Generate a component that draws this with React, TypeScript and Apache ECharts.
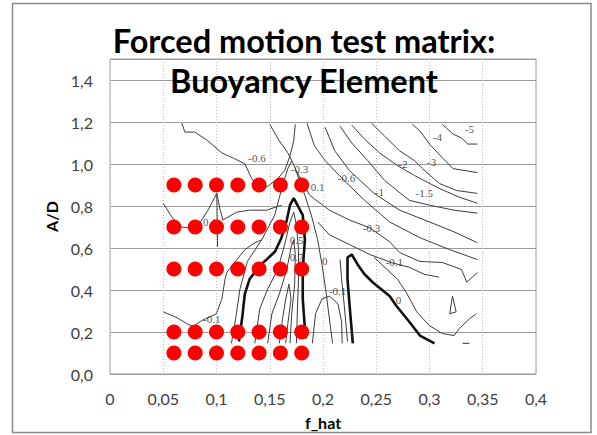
import { useEffect, useRef } from "react";
import * as echarts from "echarts";

// Test points of the forced motion matrix
const fHatValues = [0.06, 0.08, 0.1, 0.12, 0.14, 0.16, 0.18];
const adValues = [0.1, 0.2, 0.5, 0.7, 0.9];

// Axis tick labels (comma decimals)
const xTickLabels = ["0", "0,05", "0,1", "0,15", "0,2", "0,25", "0,3", "0,35", "0,4"];
const yTickLabels = ["0,0", "0,2", "0,4", "0,6", "0,8", "1,0", "1,2", "1,4"];

// Background contour lines of the lift coefficient map, [f_hat, A/D]
const contourM5 = [[0.312, 1.189], [0.322, 1.143], [0.33, 1.124], [0.336, 1.095], [0.345, 1.095]];
const contourM4 = [[0.284, 1.189], [0.291, 1.157], [0.3, 1.095], [0.312, 1.03], [0.322, 0.978], [0.345, 0.959]];
const contourM3 = [[0.2456, 1.194], [0.2578, 1.133], [0.2719, 1.063], [0.2859, 1.016], [0.2934, 0.978], [0.3094, 0.907], [0.3253, 0.874], [0.345, 0.86]];
const contourM2 = [[0.227, 1.185], [0.239, 1.119], [0.253, 1.053], [0.27, 0.992], [0.286, 0.945], [0.309, 0.884], [0.328, 0.842], [0.345, 0.813]];
const contourM15 = [[0.216, 1.18], [0.227, 1.1], [0.242, 1.016], [0.258, 0.921], [0.281, 0.827], [0.3, 0.804], [0.323, 0.78], [0.345, 0.766]];
const contourM1 = [[0.202, 1.175], [0.211, 1.063], [0.225, 0.968], [0.248, 0.86], [0.272, 0.78], [0.3, 0.724], [0.323, 0.677], [0.345, 0.625]];
const contourM06 = [[0.185, 1.194], [0.192, 1.086], [0.202, 1.016], [0.22, 0.921], [0.239, 0.827], [0.2625, 0.724], [0.291, 0.649], [0.319, 0.592], [0.345, 0.545]];
const contourM03 = [[0.175, 0.968], [0.1875, 0.851], [0.206, 0.78], [0.225, 0.733], [0.244, 0.696], [0.2625, 0.63], [0.272, 0.578], [0.291, 0.536], [0.312, 0.531], [0.33, 0.498], [0.335, 0.437], [0.345, 0.484]];
const contourM01 = [[0.195, 0.724], [0.206, 0.663], [0.225, 0.616], [0.244, 0.569], [0.264, 0.531], [0.281, 0.508], [0.295, 0.475], [0.309, 0.461]];
const contourTail = [[0.248, 0.555], [0.27, 0.451], [0.278, 0.39], [0.288, 0.296], [0.3, 0.23], [0.312, 0.193], [0.323, 0.183], [0.328, 0.216], [0.3375, 0.263], [0.344, 0.287]];
const contourIsland = [[0.3216, 0.371], [0.325, 0.296], [0.319, 0.287], [0.3216, 0.371]];
const contourDash = [[0.331, 0.146], [0.3375, 0.146]];
const contourRidgeEdge = [[0.216, 0.545], [0.2175, 0.451], [0.22, 0.324], [0.223, 0.155]];
const contourDome = [[0.19, 0.146], [0.193, 0.287], [0.199, 0.357], [0.206, 0.371], [0.214, 0.334], [0.2175, 0.249], [0.218, 0.146]];
const contourSpikeOuter = [[0.114, 0.146], [0.118, 0.263], [0.122, 0.404], [0.129, 0.536], [0.1425, 0.639], [0.1547, 0.757], [0.162, 0.898], [0.167, 0.978], [0.1706, 1.016], [0.174, 0.978], [0.178, 0.921], [0.183, 0.851], [0.189, 0.757], [0.195, 0.639], [0.199, 0.522], [0.2025, 0.404], [0.206, 0.263], [0.209, 0.146]];
const contourSpike1 = [[0.136, 0.146], [0.1406, 0.31], [0.148, 0.404], [0.1575, 0.498], [0.164, 0.616], [0.169, 0.724], [0.1725, 0.771], [0.175, 0.71], [0.177, 0.592], [0.177, 0.451], [0.176, 0.31], [0.175, 0.146]];
const contourSpike2 = [[0.148, 0.146], [0.152, 0.287], [0.159, 0.381], [0.166, 0.498], [0.17, 0.602], [0.1725, 0.639], [0.174, 0.569], [0.1734, 0.428], [0.1706, 0.287], [0.169, 0.146]];
const contourSpike3 = [[0.159, 0.146], [0.162, 0.263], [0.165, 0.357], [0.168, 0.428], [0.17, 0.357], [0.167, 0.24], [0.165, 0.146]];
const contourUpperLeft = [[0.0675, 1.194], [0.0703, 1.152], [0.0797, 1.152], [0.0919, 1.11], [0.105, 1.053], [0.117, 1.025], [0.1266, 1.001], [0.133, 0.931], [0.1387, 0.893], [0.148, 0.893], [0.1575, 0.931], [0.164, 0.968], [0.169, 1.039], [0.1725, 1.11], [0.174, 1.189]];
const contourUpperMid = [[0.15, 1.189], [0.159, 1.11], [0.167, 1.053], [0.1706, 1.016]];
const contourLeft01 = [[0.05, 0.813], [0.058, 0.748], [0.0656, 0.701], [0.073, 0.696], [0.0844, 0.719], [0.092, 0.78], [0.1003, 0.86], [0.103, 0.79], [0.106, 0.733], [0.119, 0.771], [0.131, 0.78], [0.147, 0.78], [0.161, 0.804]];
const contourLeftSpike = [[0.1003, 0.86], [0.101, 0.606]];
const contourLowerLeft = [[0.05, 0.296], [0.063, 0.268], [0.072, 0.24], [0.078, 0.226], [0.086, 0.254], [0.1, 0.287], [0.105, 0.357], [0.108, 0.451], [0.1097, 0.484], [0.114, 0.512], [0.119, 0.545], [0.1266, 0.592], [0.136, 0.625], [0.1425, 0.639]];

// Zero-level contours, drawn heavier
const contourZeroSpike = [[0.121, 0.155], [0.124, 0.263], [0.1266, 0.381], [0.131, 0.451], [0.138, 0.498], [0.145, 0.536], [0.155, 0.583], [0.161, 0.649], [0.166, 0.733], [0.169, 0.804], [0.1725, 0.837], [0.176, 0.804], [0.181, 0.757], [0.183, 0.639], [0.181, 0.498], [0.181, 0.357], [0.183, 0.216], [0.184, 0.169]];
const contourZeroRidge = [[0.228, 0.146], [0.225, 0.324], [0.223, 0.451], [0.223, 0.555], [0.227, 0.569], [0.2325, 0.522], [0.239, 0.475], [0.2466, 0.437], [0.2625, 0.371], [0.269, 0.324], [0.281, 0.249], [0.291, 0.183], [0.3047, 0.146]];

const thinContours = [
  contourM5, contourM4, contourM3, contourM2, contourM15, contourM1, contourM06, contourM03, contourM01,
  contourTail, contourIsland, contourDash, contourRidgeEdge, contourDome, contourSpikeOuter,
  contourSpike1, contourSpike2, contourSpike3, contourUpperLeft, contourUpperMid, contourLeft01,
  contourLeftSpike, contourLowerLeft,
];
const thickContours = [contourZeroSpike, contourZeroRidge];

// Contour level labels: [f_hat, A/D, text]
const contourLabels: [number, number, string][] = [
  [0.138, 1.03, "-0.6"],
  [0.222, 0.931, "-0.6"],
  [0.253, 0.865, "-1"],
  [0.295, 0.86, "-1.5"],
  [0.275, 1.001, "-2"],
  [0.302, 1.011, "-3"],
  [0.3075, 1.128, "-4"],
  [0.3375, 1.166, "-5"],
  [0.2456, 0.696, "-0.3"],
  [0.267, 0.531, "-0.1"],
  [0.0956, 0.263, "-0.1"],
  [0.2137, 0.395, "-0.1"],
  [0.271, 0.353, "0"],
  [0.2016, 0.536, "0"],
  [0.195, 0.889, "0.1"],
  [0.178, 0.978, "-0.3"],
  [0.1753, 0.639, "0.5"],
  [0.1753, 0.555, "0.7"],
  [0.0937, 0.724, "0.1"],
];

const LABEL_FONT = "Lato, 'Open Sans', sans-serif";

export default function App() {
  const ref = useRef<HTMLDivElement>(null);

  useEffect(() => {
    const chart = echarts.init(ref.current!, null, { renderer: "svg" });

    const testPoints: number[][] = [];
    adValues.forEach((ad) => fHatValues.forEach((f) => testPoints.push([f, ad])));

    const contourSeries = (data: number[][], width: number, color: string) => ({
      type: "line",
      data,
      symbol: "none",
      showSymbol: false,
      silent: true,
      clip: true,
      z: 2,
      lineStyle: { width, color },
    });

    chart.setOption({
      animation: false,
      backgroundColor: "#ffffff",
      grid: {
        left: 110,
        right: 61,
        top: 59,
        bottom: 59,
        show: true,
        borderColor: "#a0a0a0",
        borderWidth: 1,
        backgroundColor: "transparent",
      },
      xAxis: {
        type: "value",
        min: 0,
        max: 0.4,
        interval: 0.05,
        name: "f_hat",
        nameLocation: "middle",
        nameGap: 40,
        nameTextStyle: { fontFamily: LABEL_FONT, fontWeight: "bold", fontSize: 16, color: "#000" },
        axisLine: { show: false },
        axisTick: { show: false },
        axisLabel: {
          margin: 16,
          fontFamily: LABEL_FONT,
          fontSize: 16,
          color: "#404040",
          formatter: (v: number) => xTickLabels[Math.round(v / 0.05)] ?? "",
        },
        splitLine: { show: true, lineStyle: { color: "#bdbdbd", type: [1, 2], width: 1 } },
      },
      yAxis: {
        type: "value",
        min: 0,
        max: 1.5,
        interval: 0.2,
        name: "A/D",
        nameLocation: "middle",
        nameRotate: 90,
        nameGap: 46,
        nameTextStyle: { fontFamily: LABEL_FONT, fontWeight: "bold", fontSize: 16, color: "#000" },
        axisLine: { show: false },
        axisTick: { show: false },
        axisLabel: {
          margin: 17,
          showMaxLabel: false,
          fontFamily: LABEL_FONT,
          fontSize: 16,
          color: "#404040",
          formatter: (v: number) => {
            const i = Math.round(v / 0.2);
            return Math.abs(v - i * 0.2) < 1e-6 ? yTickLabels[i] ?? "" : "";
          },
        },
        splitLine: { show: true, lineStyle: { color: "#9a9a9a", width: 1 } },
      },
      graphic: [
        {
          type: "rect",
          shape: { x: 12.5, y: 3.5, width: 578.5, height: 429 },
          style: { fill: "none", stroke: "#8a8a8a", lineWidth: 1.5 },
          z: -1,
        },
        {
          type: "text",
          x: 304,
          y: 40,
          z: 100,
          style: {
            text: "Forced motion test matrix:",
            fontFamily: LABEL_FONT,
            fontWeight: "bold",
            fontSize: 32.5,
            fill: "#000",
            align: "center",
            verticalAlign: "middle",
          },
        },
        {
          type: "text",
          x: 304,
          y: 80,
          z: 100,
          style: {
            text: "Buoyancy Element",
            fontFamily: LABEL_FONT,
            fontWeight: "bold",
            fontSize: 32.5,
            fill: "#000",
            align: "center",
            verticalAlign: "middle",
          },
        },
      ],
      series: [
        ...thinContours.map((c) => contourSeries(c, 1, "#3c3c3c")),
        ...thickContours.map((c) => contourSeries(c, 2.6, "#111111")),
        {
          type: "scatter",
          silent: true,
          symbolSize: 0,
          z: 3,
          data: contourLabels.map(([x, y, t]) => ({ value: [x, y], name: t })),
          label: {
            show: true,
            position: "inside",
            formatter: (p: any) => p.name,
            fontFamily: "'Liberation Serif', 'DejaVu Serif', serif",
            fontSize: 11,
            color: "#1a1a1a",
          },
        },
        {
          type: "scatter",
          silent: true,
          symbol: "circle",
          symbolSize: 15,
          z: 10,
          itemStyle: { color: "#ff0000", opacity: 1 },
          data: testPoints,
        },
      ],
    });

    return () => chart.dispose();
  }, []);

  return (
    <div
      ref={ref}
      style={{ position: "absolute", left: 0, top: 0, width: 597, height: 435, background: "#fff" }}
    />
  );
}
